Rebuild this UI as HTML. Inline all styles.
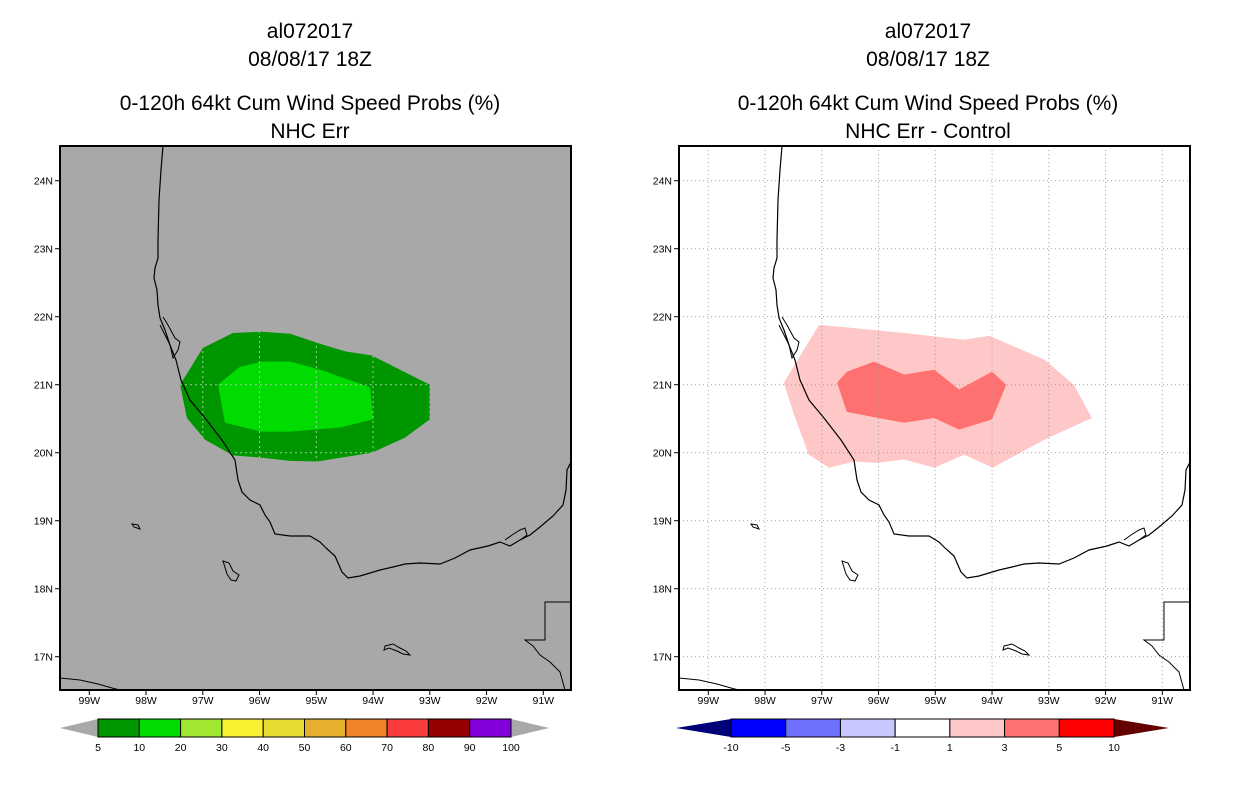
<!DOCTYPE html>
<html><head><meta charset="utf-8">
<style>
html,body{margin:0;padding:0;background:#fff;}
svg{display:block;font-family:"Liberation Sans",sans-serif;}
.t{font-size:21px;text-anchor:middle;fill:#000;}
.tk{font-size:10.5px;fill:#000;}
</style></head>
<body>
<svg id="chart" width="1236" height="800" viewBox="0 0 1236 800">
<g>
<text class="t" x="310" y="38">al072017</text>
<text class="t" x="310" y="66">08/08/17 18Z</text>
<text class="t" x="310" y="110">0-120h 64kt Cum Wind Speed Probs (%)</text>
<text class="t" x="310" y="138">NHC Err</text>
</g>
<g>
<text class="t" x="928" y="38">al072017</text>
<text class="t" x="928" y="66">08/08/17 18Z</text>
<text class="t" x="928" y="110">0-120h 64kt Cum Wind Speed Probs (%)</text>
<text class="t" x="928" y="138">NHC Err - Control</text>
</g>
<defs>
<clipPath id="clipL"><rect x="60" y="146" width="511" height="544"/></clipPath>
<clipPath id="clipR"><rect x="679" y="146" width="511" height="544"/></clipPath>
<g id="coast">
<path fill="none" stroke="#000" stroke-width="1.2" d="M163,146 L161,170 L159,200 L158,240 L158,258 L155,268 L154,278 L157,290 L158,305 L160,318 L165,330 L170,345 L176,360 L181,380 L190,400 L205,418 L222,440 L235,460 L238,480 L242,492 L250,500 L260,505 L265,515 L270,522 L275,534 L290,536 L310,536 L320,542 L326,548 L335,556 L342,572 L348,578 L360,576 L380,570 L393,567 L405,564 L420,563 L440,564 L455,558 L470,550 L488,546 L500,542 L510,546 L520,540 L530,535 L540,527 L553,516 L563,505 L566,490 L567,470 L571,462"/>
<path fill="none" stroke="#000" stroke-width="1" d="M163,317 L168,325 L175,338 L180,342 L178,350 L173,358 L170,345 L165,335 L160,325"/>
<path fill="none" stroke="#000" stroke-width="1" d="M132,524 L138,525 L140,529 L134,527 Z"/>
<path fill="none" stroke="#000" stroke-width="1" d="M223,561 L229,563 L233,571 L239,575 L236,581 L231,580 L227,574 Z"/>
<path fill="none" stroke="#000" stroke-width="1" d="M385,646 L393,644 L400,648 L406,651 L410,655 L403,654 L397,651 L389,648 L384,650 Z"/>
<path fill="none" stroke="#000" stroke-width="1" d="M571,602 L545,602 L545,640 L525,640 L533,646 L540,655 L550,662 L560,672 L565,690"/>
<path fill="none" stroke="#000" stroke-width="1" d="M60,678 L80,680 L98,684 L112,688 L120,690"/>
<path fill="none" stroke="#000" stroke-width="1" d="M505,540 L512,535 L520,530 L525,528 L527,535 L520,540"/>
</g>
</defs>
<g id="leftPanel"></g>
<g id="rightPanel"></g>
<g id="cbL"></g>
<g id="cbR"></g>
</svg>
<script>
const lonTicks = [99, 98, 97, 96, 95, 94, 93, 92, 91];
const latTicks = [17, 18, 19, 20, 21, 22, 23, 24];
const probOuterLon = [97.4, 97.0, 96.47, 95.96, 95.46, 94.93, 94.49, 94.02, 93.0, 93.0, 93.44, 94.02, 94.99, 95.46, 95.99, 96.47, 96.96, 97.28];
const probOuterLat = [21.0, 21.54, 21.76, 21.78, 21.75, 21.6, 21.49, 21.43, 21.0, 20.49, 20.22, 20.0, 19.87, 19.88, 19.93, 19.96, 20.19, 20.51];
const probInnerLon = [96.73, 96.35, 95.96, 95.46, 94.93, 94.05, 94.0, 94.58, 95.46, 95.96, 96.61];
const probInnerLat = [21.0, 21.26, 21.34, 21.34, 21.22, 20.96, 20.49, 20.37, 20.31, 20.31, 20.44];
const diffOuterLon = [97.67, 97.05, 96.52, 95.55, 94.49, 94.05, 93.08, 92.56, 92.24, 93.08, 93.99, 94.49, 95.02, 95.55, 96.03, 96.43, 96.87, 97.23, 97.49];
const diffOuterLat = [21.03, 21.88, 21.84, 21.76, 21.66, 21.72, 21.37, 21.0, 20.51, 20.19, 19.78, 19.97, 19.78, 19.9, 19.85, 19.87, 19.78, 19.97, 20.56];
const diffInnerLon = [96.73, 96.56, 96.08, 95.55, 95.02, 94.58, 94.0, 93.75, 94.0, 94.58, 95.02, 95.55, 96.0, 96.56];
const diffInnerLat = [21.03, 21.19, 21.34, 21.15, 21.22, 20.93, 21.19, 21.0, 20.49, 20.34, 20.51, 20.44, 20.51, 20.6];
const probLevels = ["5","10","20","30","40","50","60","70","80","90","100"];
const probColors = ["#009600","#00dc00","#a0e632","#faf032","#e6dc32","#e6af2d","#f08228","#fa3c3c","#960000","#8200dc"];
const diffLevels = ["-10","-5","-3","-1","1","3","5","10"];
const diffColors = ["#0000ff","#7070ff","#c8c8ff","#ffffff","#ffc8c8","#ff7070","#ff0000"];

const NS = "http://www.w3.org/2000/svg";
function mk(tag, attrs, parent){const e=document.createElementNS(NS,tag);for(const k in attrs)e.setAttribute(k,attrs[k]);parent.appendChild(e);return e;}
function xScale(lon, off){return off + 89.3 + (99 - lon) * 56.75;}
function yScale(lat){return 384.7 - (lat - 21) * 68;}
function poly(lons, lats, off){return lons.map((l,i)=>xScale(l,off).toFixed(1)+","+yScale(lats[i]).toFixed(1)).join(" ");}

function panel(g, off, gray){
  const x0 = 60 + off, clip = off ? "url(#clipR)" : "url(#clipL)";
  const bg = mk("rect",{x:x0,y:146,width:511,height:544,fill:gray?"#a8a8a8":"#fff"},g);
  
  
  const cg = mk("g",{"clip-path":clip},g);
  if(gray){
    const o = mk("polygon",{points:poly(probOuterLon,probOuterLat,off),fill:probColors[0]},cg);
    
    
    const i = mk("polygon",{points:poly(probInnerLon,probInnerLat,off),fill:probColors[1]},cg);
    
    
    const cp = mk("clipPath",{id:"clipGreen"},g);
    mk("polygon",{points:poly(probOuterLon,probOuterLat,off)},cp);
    const gg = mk("g",{"clip-path":"url(#clipGreen)"},g);
    lonTicks.forEach(l=>{const x=xScale(l,off);mk("line",{x1:x,x2:x,y1:146,y2:690,stroke:"#a8c8a8","stroke-dasharray":"2,3"},gg);});
    latTicks.forEach(l=>{const y=yScale(l);mk("line",{x1:x0,x2:x0+511,y1:y,y2:y,stroke:"#a8c8a8","stroke-dasharray":"2,3"},gg);});
  } else {
    const o = mk("polygon",{points:poly(diffOuterLon,diffOuterLat,off),fill:diffColors[4]},cg);
    
    
    const i = mk("polygon",{points:poly(diffInnerLon,diffInnerLat,off),fill:diffColors[5]},cg);
    
    
    lonTicks.forEach(l=>{const x=xScale(l,off);mk("line",{x1:x,x2:x,y1:146,y2:690,stroke:"#a0a0a0","stroke-dasharray":"1,3"},cg);});
    latTicks.forEach(l=>{const y=yScale(l);mk("line",{x1:x0,x2:x0+511,y1:y,y2:y,stroke:"#a0a0a0","stroke-dasharray":"1,3"},cg);});
  }
  const wrap = mk("g",{transform:"translate("+off+",0)"},g);
  const u = mk("use",{href:"#coast","clip-path":"url(#clipL)"},wrap);
  
  
  const fr = mk("rect",{x:x0,y:146,width:511,height:544,fill:"none",stroke:"#000","stroke-width":2},g);
  
  
  lonTicks.forEach(l=>{
    const x=xScale(l,off);
    mk("line",{x1:x,x2:x,y1:690,y2:695,stroke:"#000"},g);
    const t=mk("text",{x:x,y:704,class:"tk","text-anchor":"middle"},g);t.textContent=l+"W";
    
    
  });
  latTicks.forEach(l=>{
    const y=yScale(l);
    mk("line",{x1:x0-5,x2:x0,y1:y,y2:y,stroke:"#000"},g);
    const t=mk("text",{x:x0-7,y:y+4,class:"tk","text-anchor":"end"},g);t.textContent=l+"N";
    
    
  });
}
panel(document.getElementById("leftPanel"),0,true);
panel(document.getElementById("rightPanel"),619,false);

function colorbar(g, x0, x1, colors, levels, lcol, rcol, tri){
  const w=(x1-x0)/colors.length, y=719, h=18;
  mk("polygon",{points:(x0-tri)+","+(y+h/2)+" "+x0+","+y+" "+x0+","+(y+h),fill:lcol},g);
  mk("polygon",{points:(x1+tri)+","+(y+h/2)+" "+x1+","+y+" "+x1+","+(y+h),fill:rcol},g);
  colors.forEach((c,i)=>{
    const r=mk("rect",{x:x0+i*w,y:y,width:w,height:h,fill:c,stroke:"#000","stroke-width":1},g);
    
    
  });
  levels.forEach((lv,i)=>{
    const t=mk("text",{x:x0+i*w,y:751,class:"tk","text-anchor":"middle","font-size":"14"},g);t.textContent=lv;
    
    
  });
}
colorbar(document.getElementById("cbL"),98,511,probColors,probLevels,"#a8a8a8","#a8a8a8",38);
colorbar(document.getElementById("cbR"),731,1114,diffColors,diffLevels,"#000078","#640000",55);
</script>
</body></html>
